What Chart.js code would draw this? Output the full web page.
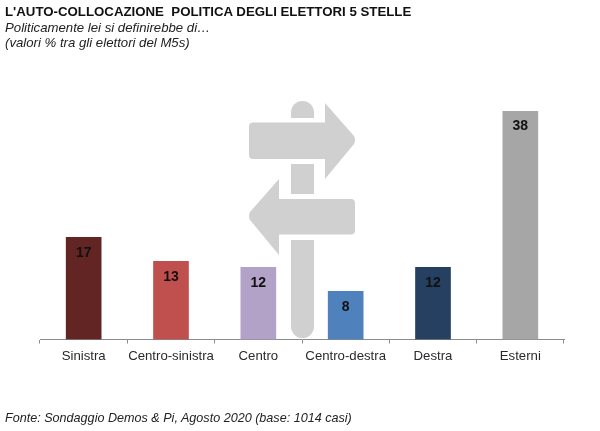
<!DOCTYPE html>
<html>
<head>
<meta charset="utf-8">
<script src="https://cdn.jsdelivr.net/npm/chart.js@4"></script>
<style>
  html, body { margin: 0; padding: 0; background: #fff; }
  #wrap { position: relative; width: 600px; height: 431px; overflow: hidden; font-family: "Liberation Sans", Arial, sans-serif; color: #1a1a1a; }
  canvas { position: absolute; left: 0; top: 0; }
  .txt { position: absolute; left: 5px; white-space: pre; }
  #title { top: 4px; font-size: 13.25px; font-weight: bold; color: #111; }
  .sub { font-size: 13.2px; font-style: italic; color: #222; }
  #foot { top: 411px; font-size: 12.6px; font-style: italic; color: #222; }
</style>
</head>
<body>
<div id="wrap">
  <canvas id="chart" width="600" height="431"></canvas>
  <div class="txt" id="title">L'AUTO-COLLOCAZIONE  POLITICA DEGLI ELETTORI 5 STELLE</div>
  <div class="txt sub" style="top:20px">Politicamente lei si definirebbe di…</div>
  <div class="txt sub" style="top:35px">(valori % tra gli elettori del M5s)</div>
  <div class="txt" id="foot">Fonte: Sondaggio Demos &amp; Pi, Agosto 2020 (base: 1014 casi)</div>
</div>
<script>
var categories = ['Sinistra', 'Centro-sinistra', 'Centro', 'Centro-destra', 'Destra', 'Esterni'];
var values = [17, 13, 12, 8, 12, 38];
var barColors = ['#632523', '#C0504D', '#B2A2C7', '#4F81BD', '#254061', '#A6A6A6'];

// signpost picture behind the bars
var signpost = {
  id: 'signpost',
  beforeDatasetsDraw: function(chart) {
    var c = chart.ctx;
    c.save();
    c.fillStyle = '#D0D0D0';
    // pole pieces
    c.beginPath();
    c.moveTo(291, 118);
    c.lineTo(291, 113);
    c.arc(302.5, 112.5, 11.5, Math.PI, 0);
    c.lineTo(314, 118);
    c.closePath();
    c.fill();
    c.fillRect(291, 164, 23, 30);
    c.beginPath();
    c.moveTo(291, 240);
    c.lineTo(314, 240);
    c.lineTo(314, 326);
    c.arc(302.5, 326.5, 11.5, 0, Math.PI);
    c.closePath();
    c.fill();
    // right arrow
    c.beginPath();
    c.moveTo(253, 122.5);
    c.lineTo(325, 122.5);
    c.lineTo(325, 103);
    c.lineTo(354, 136);
    c.quadraticCurveTo(356, 140, 354, 144);
    c.lineTo(325, 179);
    c.lineTo(325, 159);
    c.lineTo(253, 159);
    c.quadraticCurveTo(249, 159, 249, 155);
    c.lineTo(249, 126.5);
    c.quadraticCurveTo(249, 122.5, 253, 122.5);
    c.closePath();
    c.fill();
    // left arrow
    c.beginPath();
    c.moveTo(351, 199);
    c.lineTo(279, 199);
    c.lineTo(279, 179);
    c.lineTo(250, 212);
    c.quadraticCurveTo(248, 216, 250, 220);
    c.lineTo(279, 255);
    c.lineTo(279, 234.5);
    c.lineTo(351, 234.5);
    c.quadraticCurveTo(355, 234.5, 355, 230.5);
    c.lineTo(355, 203);
    c.quadraticCurveTo(355, 199, 351, 199);
    c.closePath();
    c.fill();
    c.restore();
  }
};

// value printed inside the top of each bar
var barLabels = {
  id: 'barLabels',
  afterDatasetsDraw: function(chart) {
    var c = chart.ctx;
    var meta = chart.getDatasetMeta(0);
    c.save();
    c.font = 'bold 14px "Liberation Sans", Arial, sans-serif';
    c.fillStyle = '#111';
    c.textAlign = 'center';
    c.textBaseline = 'middle';
    meta.data.forEach(function(bar, i) {
      c.fillText(values[i], bar.x, bar.y + 15.5);
    });
    c.restore();
  }
};

var ctx = document.getElementById('chart').getContext('2d');
var chart = new Chart(ctx, {
  type: 'bar',
  data: {
    labels: categories,
    datasets: [{
      data: values,
      backgroundColor: barColors,
      barThickness: 35
    }]
  },
  plugins: [signpost, barLabels],
  options: {
    responsive: false,
    animation: false,
    layout: { padding: { left: 40, right: 36, top: 111, bottom: 66.5 } },
    plugins: { legend: { display: false }, tooltip: { enabled: false } },
    scales: {
      x: {
        afterFit: function(scale) { scale.height = 25; },
        border: { color: '#8c8c8c' },
        grid: { offset: true, drawOnChartArea: false, drawTicks: true, tickLength: 4, color: '#8c8c8c' },
        ticks: { color: '#2a2a2a', padding: 5, maxRotation: 0, autoSkip: false, font: { family: '"Liberation Sans", Arial, sans-serif', size: 13.2 } }
      },
      y: { display: false, min: 0, max: 38 }
    }
  }
});
</script>
</body>
</html>
